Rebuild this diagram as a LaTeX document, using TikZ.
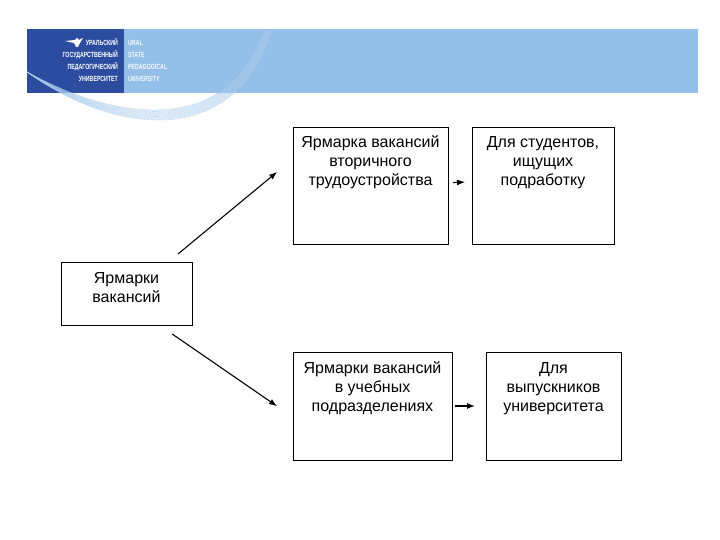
\documentclass[tikz,border=0pt]{standalone}
\usepackage{fontspec}
\usepackage{xcolor}
\setmainfont{Liberation Sans}
\usetikzlibrary{arrows.meta}

\definecolor{bannerblue}{HTML}{94BFE8}
\definecolor{logoblue}{HTML}{2B4C9F}
\definecolor{waveblue}{HTML}{A9CBEC}

\begin{document}
\begin{tikzpicture}[
  x=1pt, y=-1pt,
  box/.style={draw, line width=0.9pt, anchor=north west, inner sep=0pt, outer sep=0pt, align=center, font=\fontsize{16}{19}\selectfont},
  link/.style={-{Latex[length=8pt,width=6pt]}, line width=1.1pt},
  logoru/.style={anchor=base east, inner sep=0pt, text=white, xscale=0.7, font=\fontsize{7.5}{8}\selectfont\bfseries},
  logoen/.style={anchor=base west, inner sep=0pt, text=white!90!bannerblue, xscale=0.7, font=\fontsize{7.5}{8}\selectfont\bfseries}
]
\useasboundingbox (0,0) rectangle (720,540);

% Banner
\fill[bannerblue] (27,29) rectangle (698,93);
\fill[logoblue] (27,29) rectangle (124,93);

% Wave over the banner
\foreach \i in {0,...,12} {
  \pgfmathsetmacro{\t}{\i/12}
  \draw[waveblue, line width=0.3pt]
    (27,72) .. controls ({105+10*\t},{115+20*\t}) and ({224+11*\t},{144+6*\t}) .. ({265+7*\t},30);
}

% Emblem
\fill[white] (75,40) -- (77,38) -- (79,40) -- (83,38) -- (80,43) -- (78,47) -- (76,47) -- (74,43) -- (65,41) -- cycle;

% Logo texts
\node[logoru] (ruone) at (118,46) {УРАЛЬСКИЙ};
\node[logoru] (rutwo) at (118,58) {ГОСУДАРСТВЕННЫЙ};
\node[logoru] (ruthree) at (118,70) {ПЕДАГОГИЧЕСКИЙ};
\node[logoru] (rufour) at (118,82) {УНИВЕРСИТЕТ};
\node[logoen] (enone) at (128,46) {URAL};
\node[logoen] (entwo) at (128,58) {STATE};
\node[logoen] (enthree) at (128,70) {PEDAGOGICAL};
\node[logoen] (enfour) at (128,82) {UNIVERSITY};

% Boxes
\node[box, minimum width=131pt, text height=40pt, text depth=23pt] (fairs) at (61,262) {Ярмарки\\вакансий};
\node[box, minimum width=155pt, text height=59pt, text depth=58pt] (secondary) at (293,127) {Ярмарка вакансий\\вторичного\\трудоустройства};
\node[box, minimum width=142pt, text height=59pt, text depth=58pt] (students) at (472,127) {Для студентов,\\ищущих\\подработку};
\node[box, minimum width=159pt, text height=59pt, text depth=49pt] (units) at (293,352) {Ярмарки вакансий\\в учебных\\подразделениях};
\node[box, minimum width=135pt, text height=59pt, text depth=49pt] (graduates) at (486,352) {Для\\выпускников\\университета};

% Arrows
\draw[link, shorten <=12.6pt, shorten >=20.6pt] (fairs.37) -- (secondary.161);
\draw[link, shorten <=15.8pt, shorten >=19.4pt] (fairs.-44) -- (units.188.6);
\draw[link, shorten <=5pt, shorten >=7pt] (secondary.2.6) -- (students.177.2);
\draw[link, shorten <=3pt, shorten >=11pt] (units.east) -- (graduates.west);

\end{tikzpicture}
\end{document}
